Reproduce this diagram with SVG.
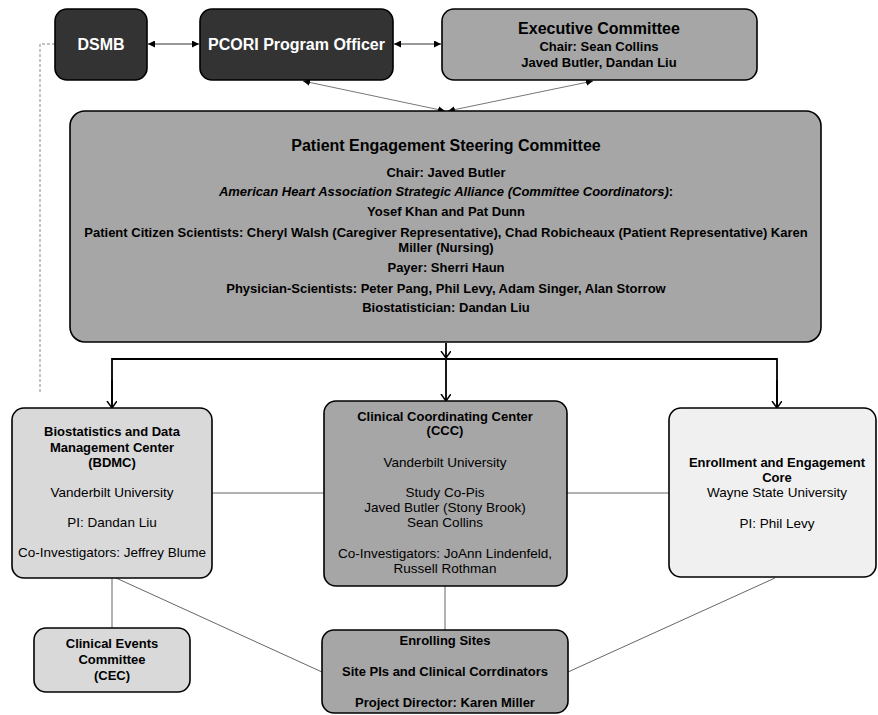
<svg xmlns="http://www.w3.org/2000/svg" width="878" height="715" viewBox="0 0 878 715">
<style>
text{font-family:"Liberation Sans",Arial,sans-serif;fill:#000;text-anchor:middle}
.b{font-weight:bold}
.box{stroke:#000;stroke-width:1.6}
.dark{fill:#333333}
.mid{fill:#a6a6a6}
.light{fill:#d9d9d9}
.pale{fill:#f0f0f0}
.wt{fill:#fff;font-weight:bold;font-size:16px}
.t16{font-size:16px;font-weight:bold}
.t13b{font-size:13px;font-weight:bold}
.t13{font-size:13.5px}
.thin{fill:none;stroke:#666;stroke-width:1}
.thick{fill:none;stroke:#000;stroke-width:1.8}
.dash{fill:none;stroke:#888;stroke-width:1;stroke-dasharray:3,2}
</style>
<defs>
<marker id="tri" markerUnits="userSpaceOnUse" markerWidth="8" markerHeight="7" refX="7" refY="3.5" orient="auto-start-reverse">
<path d="M0,0 L7,3.5 L0,7 Z" fill="#000"/>
</marker>
<marker id="chev" markerUnits="userSpaceOnUse" markerWidth="10" markerHeight="12" refX="7" refY="5" orient="auto">
<path d="M0,0 L7,5 L0,10" fill="none" stroke="#000" stroke-width="1.5"/>
</marker>
</defs>

<g id="connectors">
<path class="dash" d="M55,44 H40 V393"/>
<line x1="148" y1="44" x2="199" y2="44" stroke="#333" stroke-width="1" marker-start="url(#tri)" marker-end="url(#tri)"/>
<line x1="394" y1="44" x2="441" y2="44" stroke="#333" stroke-width="1" marker-start="url(#tri)" marker-end="url(#tri)"/>
<line x1="303" y1="81" x2="445" y2="111" stroke="#777" stroke-width="1" marker-start="url(#tri)" marker-end="url(#tri)"/>
<line x1="593" y1="81" x2="448" y2="111" stroke="#777" stroke-width="1" marker-start="url(#tri)" marker-end="url(#tri)"/>
<line class="thick" x1="446" y1="343" x2="446" y2="358" marker-end="url(#chev)"/>
<path class="thick" d="M112,408 V359 H777 V408"/>
<line class="thick" x1="112" y1="380" x2="112" y2="408" marker-end="url(#chev)"/>
<line class="thick" x1="446" y1="359" x2="446" y2="401" marker-end="url(#chev)"/>
<line class="thick" x1="777" y1="380" x2="777" y2="408" marker-end="url(#chev)"/>
<line class="thin" x1="212" y1="493" x2="324" y2="493"/>
<line class="thin" x1="567" y1="493" x2="669" y2="493"/>
<line class="thin" x1="112" y1="578" x2="112" y2="628"/>
<line class="thin" x1="116" y1="578" x2="322" y2="672"/>
<line class="thin" x1="445" y1="586" x2="445" y2="630"/>
<line class="thin" x1="775" y1="578" x2="568" y2="672"/>
</g>

<g id="dsmb">
<rect class="box dark" x="55" y="9" width="92" height="71" rx="12"/>
<text class="wt" x="101" y="50">DSMB</text>
</g>

<g id="pcori">
<rect class="box dark" x="200" y="9" width="193" height="71" rx="12"/>
<text class="wt" x="296.5" y="50">PCORI Program Officer</text>
</g>

<g id="exec">
<rect class="box mid" x="442" y="9" width="315" height="71" rx="12"/>
<text class="t16" x="599" y="34">Executive Committee</text>
<text class="t13b" x="599" y="51">Chair: Sean Collins</text>
<text class="t13b" x="599" y="67">Javed Butler, Dandan Liu</text>
</g>

<g id="pesc">
<rect class="box mid" x="70" y="111" width="751" height="231" rx="15"/>
<text class="t16" x="446" y="151">Patient Engagement Steering Committee</text>
<text class="t13b" x="446" y="177">Chair: Javed Butler</text>
<text class="t13b" x="446" y="196"><tspan font-style="italic">American Heart Association Strategic Alliance (Committee Coordinators)</tspan>:</text>
<text class="t13b" x="446" y="216">Yosef Khan and Pat Dunn</text>
<text class="t13b" x="446" y="237">Patient Citizen Scientists: Cheryl Walsh (Caregiver Representative), Chad Robicheaux (Patient Representative) Karen</text>
<text class="t13b" x="446" y="252">Miller (Nursing)</text>
<text class="t13b" x="446" y="272">Payer: Sherri Haun</text>
<text class="t13b" x="446" y="293">Physician-Scientists: Peter Pang, Phil Levy, Adam Singer, Alan Storrow</text>
<text class="t13b" x="446" y="312">Biostatistician: Dandan Liu</text>
</g>

<g id="bdmc">
<rect class="box light" x="12" y="408" width="200" height="170" rx="12"/>
<text class="t13b" x="112" y="436">Biostatistics and Data</text>
<text class="t13b" x="112" y="452">Management Center</text>
<text class="t13b" x="112" y="467">(BDMC)</text>
<text class="t13" x="112" y="497">Vanderbilt University</text>
<text class="t13" x="112" y="527">PI: Dandan Liu</text>
<text class="t13" x="112" y="557">Co-Investigators: Jeffrey Blume</text>
</g>

<g id="ccc">
<rect class="box mid" x="324" y="401" width="243" height="185" rx="12"/>
<text class="t13b" x="445" y="421">Clinical Coordinating Center</text>
<text class="t13b" x="445" y="435">(CCC)</text>
<text class="t13" x="445" y="467">Vanderbilt University</text>
<text class="t13" x="445" y="497">Study Co-Pis</text>
<text class="t13" x="445" y="512">Javed Butler (Stony Brook)</text>
<text class="t13" x="445" y="527">Sean Collins</text>
<text class="t13" x="445" y="558">Co-Investigators: JoAnn Lindenfeld,</text>
<text class="t13" x="445" y="573">Russell Rothman</text>
</g>

<g id="eec">
<rect class="box pale" x="669" y="408" width="207" height="169" rx="12"/>
<text class="t13b" x="777" y="467">Enrollment and Engagement</text>
<text class="t13b" x="777" y="482">Core</text>
<text class="t13" x="777" y="497">Wayne State University</text>
<text class="t13" x="777" y="528">PI: Phil Levy</text>
</g>

<g id="cec">
<rect class="box light" x="34" y="628" width="156" height="64" rx="12"/>
<text class="t13b" x="112" y="648">Clinical Events</text>
<text class="t13b" x="112" y="664">Committee</text>
<text class="t13b" x="112" y="680">(CEC)</text>
</g>

<g id="enrolling">
<rect class="box mid" x="322" y="630" width="246" height="83" rx="12"/>
<text class="t13b" x="445" y="645">Enrolling Sites</text>
<text class="t13b" x="445" y="676">Site PIs and Clinical Corrdinators</text>
<text class="t13b" x="445" y="707">Project Director: Karen Miller</text>
</g>
</svg>
